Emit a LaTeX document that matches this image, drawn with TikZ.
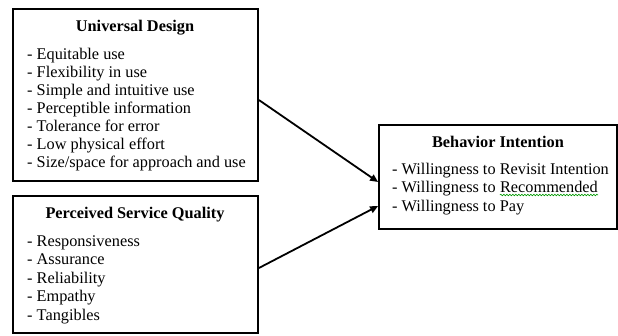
\documentclass[tikz,border=0pt]{standalone}
\usepackage{fontspec}
\setmainfont{Liberation Serif}
\usetikzlibrary{arrows.meta,decorations.pathmorphing}
\begin{document}
\begin{tikzpicture}[x=1pt,y=-1pt,
  box/.style={draw=black,line width=1.8pt,rectangle,inner sep=0pt},
  ttl/.style={anchor=base,font=\fontsize{16.3}{18}\selectfont\bfseries,inner sep=0pt},
  itm/.style={anchor=base west,font=\fontsize{16.3}{18}\selectfont,inner sep=0pt},
  arr/.style={line width=1.8pt,-{Triangle[length=8pt,width=7pt]}},
  squiggle/.style={draw=green!60!black,line width=0.6pt,decorate,decoration={snake,amplitude=0.8pt,segment length=3pt}}]
\useasboundingbox (0,0) rectangle (618,335);
\node[box,minimum width=245pt,minimum height=172pt] (ud) at (135.5,95) {};
\node[box,minimum width=245pt,minimum height=137pt] (ps) at (135.5,264.5) {};
\node[box,minimum width=238pt,minimum height=104pt] (bi) at (498,177) {};
% Universal Design
\node[ttl] (t1) at (135,31) {Universal Design};
\node[itm] (a1) at (27,59) {- Equitable use};
\node[itm] (a2) at (27,77) {- Flexibility in use};
\node[itm] (a3) at (27,95) {- Simple and intuitive use};
\node[itm] (a4) at (27,113) {- Perceptible information};
\node[itm] (a5) at (27,131) {- Tolerance for error};
\node[itm] (a6) at (27,149) {- Low physical effort};
\node[itm] (a7) at (27,167) {- Size/space for approach and use};
% Perceived Service Quality
\node[ttl] (t2) at (135,218) {Perceived Service Quality};
\node[itm] (b1) at (27,246) {- Responsiveness};
\node[itm] (b2) at (27,264.5) {- Assurance};
\node[itm] (b3) at (27,283) {- Reliability};
\node[itm] (b4) at (27,301.5) {- Empathy};
\node[itm] (b5) at (27,320) {- Tangibles};
% Behavior Intention
\node[ttl] (t3) at (498,147) {Behavior Intention};
\node[itm] (c1) at (392,174) {- Willingness to Revisit Intention};
\node[itm] (c2) at (392,192.5) {- Willingness to};
\node[itm] (rec) at ([xshift=4pt]c2.base east) {Recommended};
\node[itm] (c3) at (392,211) {- Willingness to Pay};
\draw[squiggle] ([yshift=-2.5pt]rec.base west) -- ([yshift=-2.5pt]rec.base east);
% arrows
\draw[arr] ([yshift=-5pt]ud.east) -- ([yshift=-5pt]bi.west);
\draw[arr] ([yshift=-3.5pt]ps.east) -- ([yshift=-29pt]bi.west);
\end{tikzpicture}
\end{document}
